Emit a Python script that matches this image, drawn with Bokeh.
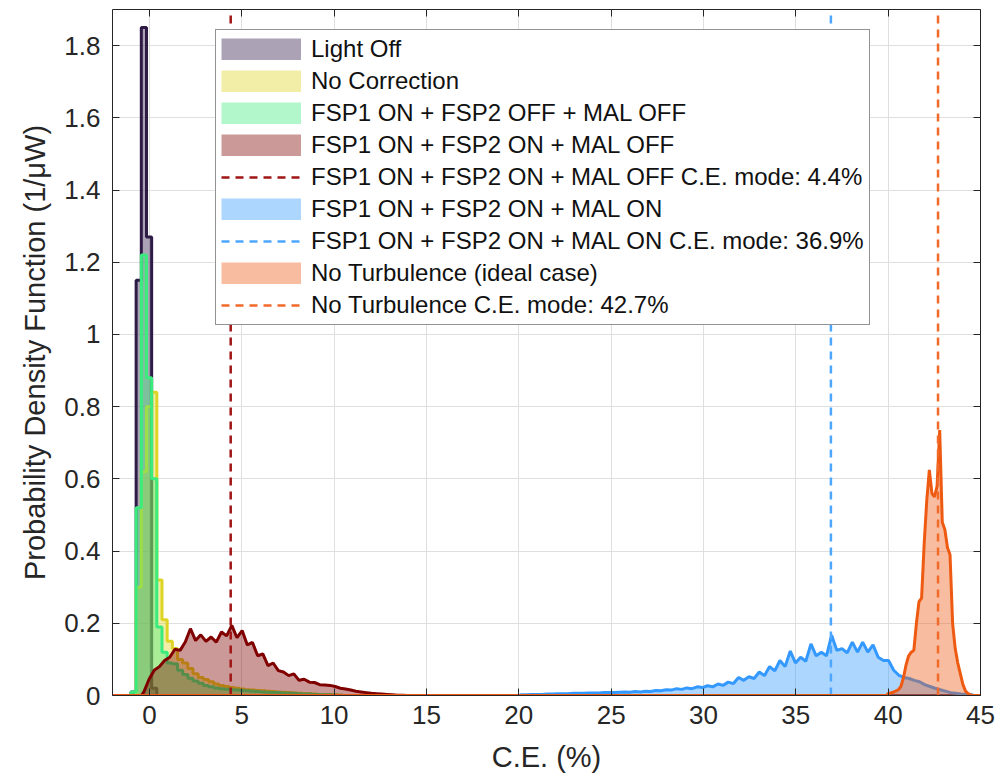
import numpy as np
from bokeh.plotting import figure
from bokeh.models import Range1d, LinearAxis, FixedTicker, Legend, LegendItem, CustomJSTickFormatter
from bokeh.embed import file_html
from bokeh.resources import INLINE

# ---------------- data ----------------
x_label = "C.E. (%)"
y_label = "Probability Density Function (1/\u03bcW)"
x_limits = [-2, 45]
y_limits = [0, 1.9]
x_ticks = [0, 5, 10, 15, 20, 25, 30, 35, 40, 45]
x_tick_labels = ["0", "5", "10", "15", "20", "25", "30", "35", "40", "45"]
y_ticks = [0, 0.2, 0.4, 0.6, 0.8, 1.0, 1.2, 1.4, 1.6, 1.8]
y_tick_labels = ["0", "0.2", "0.4", "0.6", "0.8", "1", "1.2", "1.4", "1.6", "1.8"]

series_names = [
    "Light Off",
    "No Correction",
    "FSP1 ON + FSP2 OFF + MAL OFF",
    "FSP1 ON + FSP2 ON + MAL OFF",
    "FSP1 ON + FSP2 ON + MAL ON",
    "No Turbulence (ideal case)",
]

# histogram bins: first bin edge and bin width (C.E. %), then PDF values per bin
light_off_bins = (-1.0, 0.28)
light_off_pdf = [0.01, 1.15, 1.85, 1.27, 0.02]

no_correction_bins = (-1.0, 0.28)
no_correction_pdf = [0.0, 0.30, 0.62, 0.80, 0.84, 0.32, 0.21, 0.15, 0.13, 0.10,
                     0.09, 0.075, 0.06, 0.05, 0.044, 0.038, 0.032, 0.028, 0.025, 0.022,
                     0.020, 0.018, 0.016, 0.015, 0.014, 0.013, 0.012, 0.011, 0.010, 0.009,
                     0.008, 0.007, 0.006, 0.005, 0.005, 0.004, 0.003, 0.003, 0.002, 0.002,
                     0.001, 0.0]

fsp1_only_bins = (-1.0, 0.28)
fsp1_only_pdf = [0.01, 0.52, 1.22, 0.88, 0.60, 0.19, 0.12, 0.09, 0.088, 0.07,
                 0.058, 0.048, 0.040, 0.034, 0.028, 0.024, 0.021, 0.019, 0.017, 0.016,
                 0.015, 0.014, 0.013, 0.012, 0.011, 0.010, 0.009, 0.008, 0.008, 0.007,
                 0.006, 0.006, 0.005, 0.004, 0.004, 0.003, 0.003, 0.002, 0.002, 0.001,
                 0.001, 0.0]

mal_off_bins = (-0.44, 0.28)
mal_off_pdf = [0.01, 0.045, 0.07, 0.08, 0.097, 0.106, 0.128, 0.125, 0.148, 0.185,
               0.152, 0.168, 0.150, 0.162, 0.148, 0.176, 0.165, 0.194, 0.160, 0.180,
               0.140, 0.147, 0.110, 0.115, 0.083, 0.090, 0.069, 0.065, 0.055, 0.060,
               0.042, 0.045, 0.037, 0.036, 0.030, 0.029, 0.028, 0.025, 0.020, 0.018,
               0.015, 0.012, 0.010, 0.008, 0.006, 0.005, 0.004, 0.003, 0.002, 0.001,
               0.001, 0.0]

mal_on_bins = (20.0, 0.28)
mal_on_pdf = [0.002, 0.002, 0.003, 0.003, 0.003, 0.004, 0.004, 0.005, 0.005, 0.005,
              0.006, 0.006, 0.006, 0.007, 0.007, 0.007, 0.008, 0.008, 0.008, 0.009,
              0.010, 0.009, 0.011, 0.010, 0.012, 0.011, 0.014, 0.013, 0.016, 0.015,
              0.019, 0.017, 0.021, 0.019, 0.024, 0.022, 0.027, 0.024, 0.032, 0.028,
              0.037, 0.033, 0.050, 0.042, 0.052, 0.047, 0.065, 0.055, 0.080, 0.068,
              0.097, 0.080, 0.123, 0.090, 0.106, 0.095, 0.143, 0.110, 0.120, 0.110,
              0.167, 0.125, 0.130, 0.118, 0.148, 0.120, 0.148, 0.120, 0.140, 0.106,
              0.097, 0.097, 0.070, 0.056, 0.050, 0.047, 0.042, 0.038, 0.030, 0.025,
              0.020, 0.016, 0.012, 0.008, 0.006, 0.004, 0.003, 0.002]

no_turb_bins = (39.92, 0.14)
no_turb_pdf = [0.005, 0.007, 0.009, 0.012, 0.016, 0.025, 0.05, 0.085, 0.11, 0.12,
               0.125, 0.20, 0.26, 0.27, 0.42, 0.54, 0.625, 0.56, 0.55, 0.58,
               0.735, 0.48, 0.46, 0.41, 0.39, 0.20, 0.13, 0.09, 0.06, 0.03,
               0.012, 0.005, 0.002]

mode_labels = [
    "FSP1 ON + FSP2 ON + MAL OFF C.E. mode: 4.4%",
    "FSP1 ON + FSP2 ON + MAL ON C.E. mode: 36.9%",
    "No Turbulence C.E. mode: 42.7%",
]
mode_values = [4.4, 36.9, 42.7]

# ---------------- style ----------------
colors = ["#2D1A45", "#DED425", "#3CEB7D", "#800000", "#3399FF", "#EE5A12"]
step_style = [True, True, True, False, False, False]
mode_colors = ["#A01515", "#4DA6FF", "#F26A2A"]
FONT = "Liberation Sans"
TXT = "#262626"
FMT_CODE = ("const i = tvals.findIndex(t => Math.abs(t - tick) < 1e-9); "
            "return i >= 0 ? tlabels[i] : '';")


def hist_path(bins, vals, steps):
    start, width = bins
    edges = start + width * np.arange(len(vals) + 1)
    xs = [x_limits[0], edges[0]]
    ys = [0.0, 0.0]
    if steps:
        for i, v in enumerate(vals):
            xs += [edges[i], edges[i + 1]]
            ys += [v, v]
    else:
        for i, v in enumerate(vals):
            xs.append(0.5 * (edges[i] + edges[i + 1]))
            ys.append(v)
    xs += [edges[-1], x_limits[1]]
    ys += [0.0, 0.0]
    return [float(v) for v in xs], ys


p = figure(width=1000, height=779, x_range=Range1d(*x_limits), y_range=Range1d(*y_limits),
           output_backend="svg", toolbar_location=None,
           min_border_left=112, min_border_right=20, min_border_top=9, min_border_bottom=84,
           background_fill_color="white", border_fill_color="white")
p.outline_line_color = None

# axes
for ax in (p.xaxis[0], p.yaxis[0]):
    ax.axis_line_color = TXT
    ax.major_tick_line_color = TXT
    ax.major_tick_in = 7
    ax.major_tick_out = 0
    ax.minor_tick_line_color = None
    ax.major_label_text_font = FONT
    ax.major_label_text_font_size = "26px"
    ax.major_label_text_color = TXT
    ax.axis_label_text_font = FONT
    ax.axis_label_text_font_size = "29px"
    ax.axis_label_text_font_style = "normal"
    ax.axis_label_text_color = TXT

p.xaxis[0].ticker = FixedTicker(ticks=x_ticks)
p.xaxis[0].formatter = CustomJSTickFormatter(args=dict(tvals=x_ticks, tlabels=x_tick_labels), code=FMT_CODE)
p.yaxis[0].ticker = FixedTicker(ticks=y_ticks)
p.yaxis[0].formatter = CustomJSTickFormatter(args=dict(tvals=y_ticks, tlabels=y_tick_labels), code=FMT_CODE)
p.xaxis[0].axis_label = x_label
p.yaxis[0].axis_label = y_label
p.xaxis[0].major_label_standoff = 10
p.xaxis[0].axis_label_standoff = 14
p.yaxis[0].major_label_standoff = 12
p.yaxis[0].axis_label_standoff = 10

for side, ticks in (("above", x_ticks), ("right", y_ticks)):
    ax = LinearAxis(ticker=FixedTicker(ticks=ticks), major_label_text_font_size="1px",
                    major_label_text_color=None, major_tick_in=7, major_tick_out=0,
                    minor_tick_line_color=None, axis_line_color=TXT,
                    major_tick_line_color=TXT, major_label_standoff=0)
    p.add_layout(ax, side)

p.xgrid.ticker = FixedTicker(ticks=x_ticks)
p.ygrid.ticker = FixedTicker(ticks=y_ticks)
p.grid.grid_line_color = "#dfdfdf"
p.grid.grid_line_width = 1

# series
all_bins = [light_off_bins, no_correction_bins, fsp1_only_bins, mal_off_bins, mal_on_bins, no_turb_bins]
all_pdf = [light_off_pdf, no_correction_pdf, fsp1_only_pdf, mal_off_pdf, mal_on_pdf, no_turb_pdf]
mode_after = {3: 0, 4: 1, 5: 2}

items = []
for k in range(6):
    xs, ys = hist_path(all_bins[k], all_pdf[k], step_style[k])
    p.varea(x=xs, y1=[0.0] * len(xs), y2=ys, fill_color=colors[k], fill_alpha=0.4)
    p.line(xs, ys, line_color=colors[k], line_width=3)
    # legend swatch: an invisible (NaN) thick line renders as a full-width filled box
    swatch = p.line(x=[float("nan")], y=[float("nan")], line_color=colors[k],
                    line_alpha=0.4, line_width=22, line_cap="butt")
    items.append(LegendItem(label=series_names[k], renderers=[swatch]))
    if k in mode_after:
        m = mode_after[k]
        ml = p.line([mode_values[m], mode_values[m]], [y_limits[0], y_limits[1]],
                    line_color=mode_colors[m], line_width=2.5, line_dash="8 6")
        items.append(LegendItem(label=mode_labels[m], renderers=[ml]))

legend = Legend(items=items, location=(103, 370))
legend.label_text_font = FONT
legend.label_text_font_size = "24px"
legend.label_text_color = "#111111"
legend.glyph_width = 80
legend.glyph_height = 22
legend.label_height = 22
legend.label_standoff = 10
legend.spacing = 4
legend.padding = 5
legend.margin = 0
legend.border_line_color = TXT
legend.border_line_width = 1
legend.background_fill_color = "white"
legend.background_fill_alpha = 1.0
p.add_layout(legend, "center")

open("out.html", "w").write(file_html(p, INLINE))
